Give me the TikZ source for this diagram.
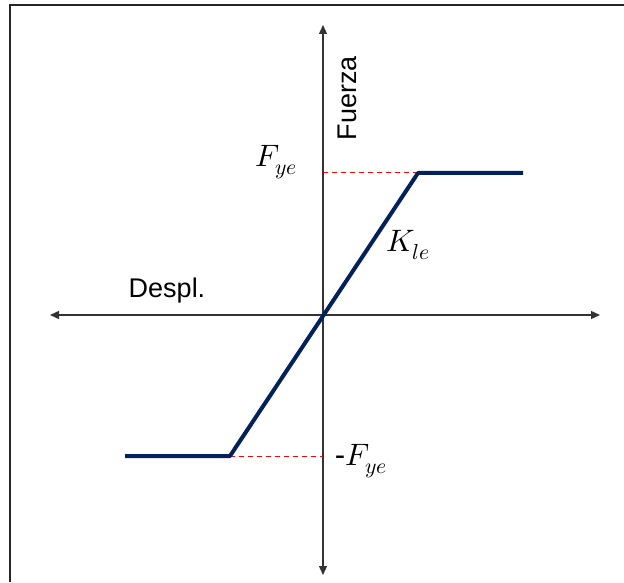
\documentclass[tikz,border=0pt]{standalone}
\usepackage{fontspec}
\usepackage{unicode-math}
\setmainfont{Liberation Sans}
\setmathfont{Latin Modern Math}
\usetikzlibrary{arrows.meta}
\definecolor{navyline}{HTML}{002060}
\definecolor{axisgray}{HTML}{333333}
\tikzset{
  axisline/.style={draw=axisgray, line width=1.4pt, -{Triangle[length=9pt,width=8pt]}},
  curveline/.style={draw=navyline, line width=4pt, line join=round},
  guideline/.style={draw=red, line width=1pt, dash pattern=on 5pt off 4pt},
  framestyle/.style={draw=black!85, line width=2pt},
  txt/.style={inner sep=0pt, font=\fontsize{27}{32}\selectfont},
  mlabel/.style={inner sep=0pt, font=\fontsize{31}{36}\selectfont}
}
\begin{document}
\begin{tikzpicture}[x=1pt,y=1pt]
\useasboundingbox (0,0) rectangle (624,582);
% frame
\coordinate (fbl) at (10,0);
\coordinate (ftl) at (10,577);
\coordinate (ftr) at (624,577);
\draw[framestyle] (fbl) -- (ftl) -- (ftr);
% axes
\coordinate (O) at (323,267);
\coordinate (ytop) at (323,557);
\coordinate (ybot) at (323,7);
\coordinate (xl) at (50,267);
\coordinate (xr) at (600,267);
\draw[axisline] (O) -- (ytop);
\draw[axisline] (O) -- (ybot);
\draw[axisline] (O) -- (xl);
\draw[axisline] (O) -- (xr);
% curve points
\coordinate (A) at (125,126);
\coordinate (B) at (230,126);
\coordinate (C) at (418,409);
\coordinate (D) at (523,409);
\coordinate (Cy) at (323,409);
\coordinate (By) at (323,126);
\draw[guideline] (C) -- (Cy);
\draw[guideline] (B) -- (By);
\draw[curveline] (A) -- (B) -- (C) -- (D);
% labels
\node[mlabel] (fye) at (276,420) {$F_{ye}$};
\node[mlabel] (kle) at (408,337) {$K_{le}$};
\node[mlabel] (mfye) at (361,121) {-$F_{ye}$};
\node[txt] (despl) at (167,291) {Despl.};
\node[txt, rotate=90] (fuerza) at (347,484) {Fuerza};
\end{tikzpicture}
\end{document}
